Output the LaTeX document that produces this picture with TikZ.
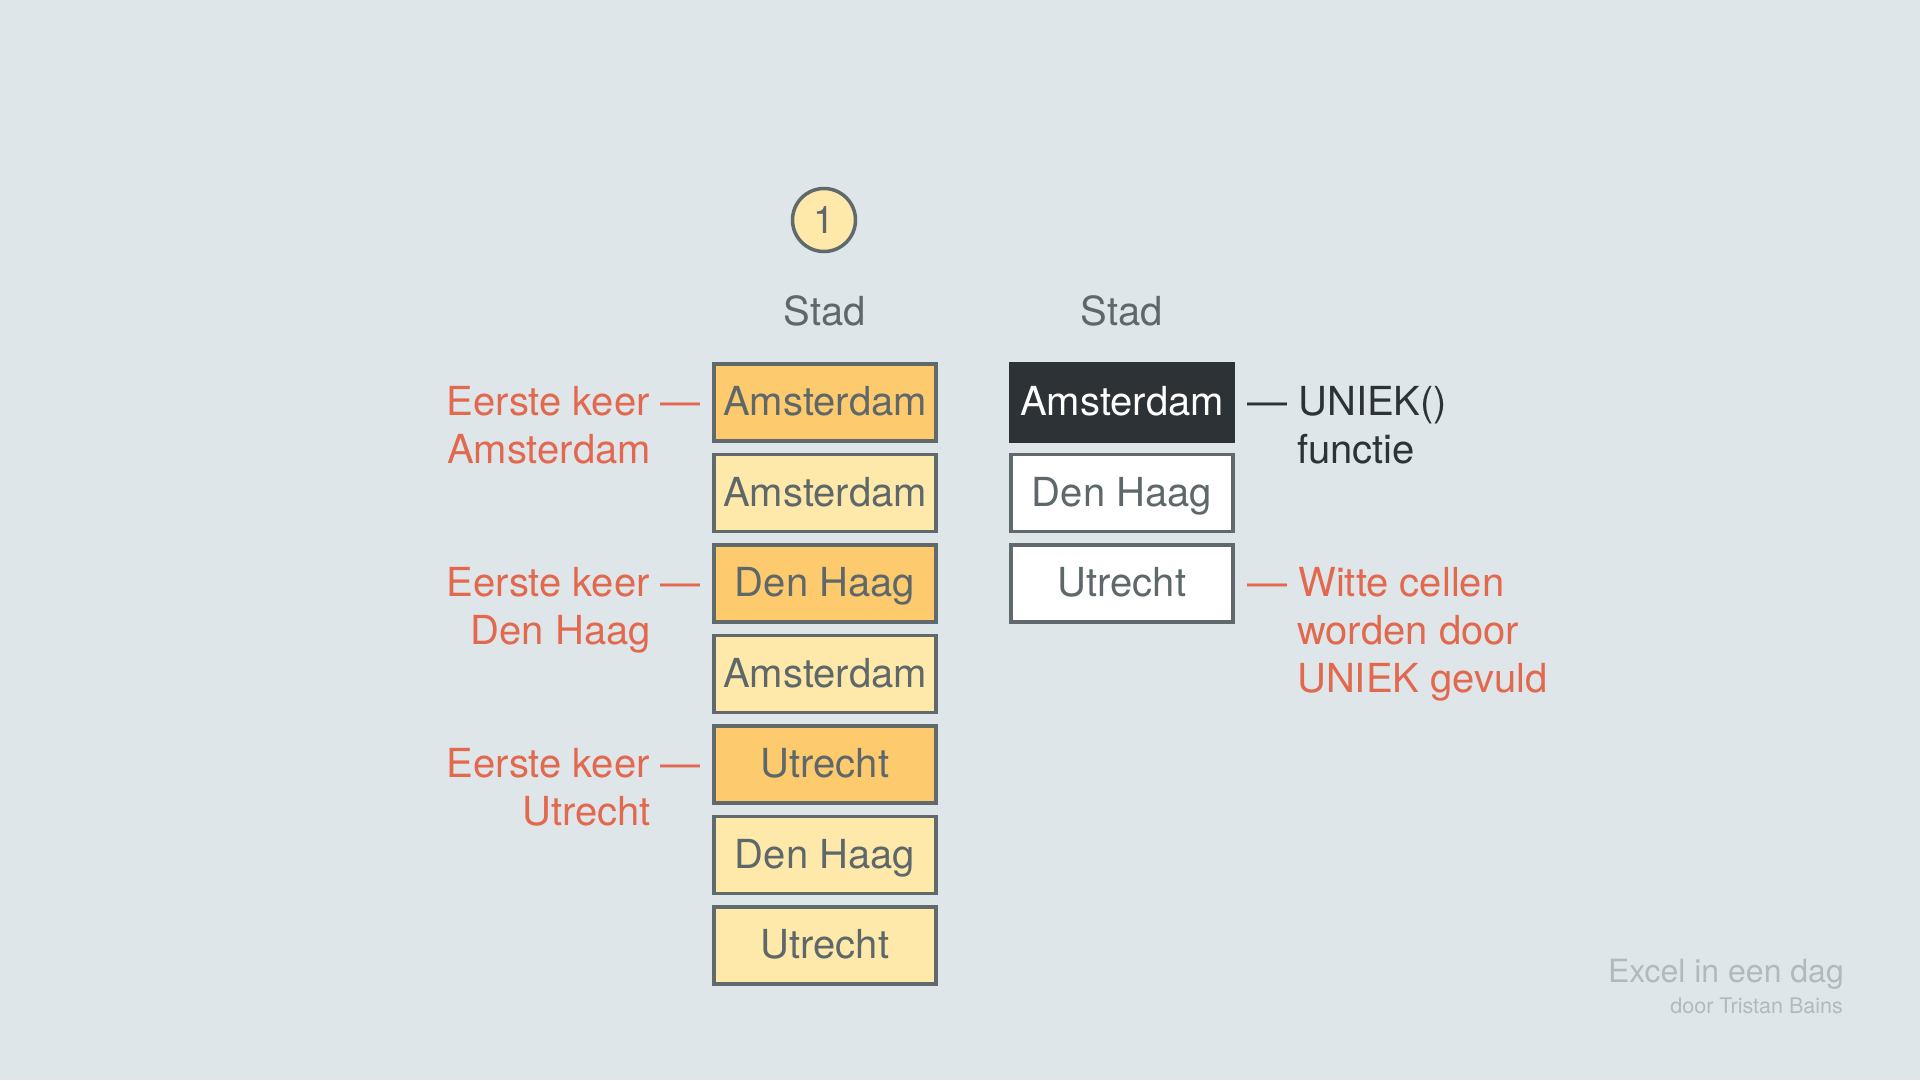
\documentclass[tikz,border=0pt]{standalone}
\usepackage{fontspec}
\setmainfont{TeX Gyre Heros}
\usepackage{tikz}
\usetikzlibrary{positioning}

\definecolor{achter}{RGB}{223,230,233}
\definecolor{rand}{RGB}{96,106,108}
\definecolor{grijs}{RGB}{94,104,106}
\definecolor{oranje}{RGB}{253,202,110}
\definecolor{geel}{RGB}{255,233,170}
\definecolor{rood}{RGB}{226,104,78}
\definecolor{donker}{RGB}{44,50,53}
\definecolor{vaag}{RGB}{176,186,190}
\newcommand\groot{\fontsize{40}{48}\selectfont}

\begin{document}
\begin{tikzpicture}[x=1pt,y=-1pt,
	cel/.style={draw=rand,line width=3.5pt,minimum width=222pt,minimum height=77pt,inner sep=0pt,text=grijs,font=\groot,text height=28.5pt,text depth=2.5pt},
	eerst/.style={cel,fill=oranje},
	rest/.style={cel,fill=geel},
	wit/.style={cel,fill=white},
	uniek/.style={cel,draw=donker,fill=donker,text=white},
	kop/.style={text=grijs,font=\groot,inner sep=0pt},
	rood/.style={text=rood,font=\groot,inner sep=0pt},
	zwart/.style={text=donker,font=\groot,inner sep=0pt}]
		\fill[achter] (0,0) rectangle (1920,1080);
		\useasboundingbox (0,0) rectangle (1920,1080);
		% nummer en koppen
		\node[circle,draw=rand,fill=geel,line width=3.5pt,minimum size=63pt,inner sep=0pt,text=grijs,font=\fontsize{38}{44}\selectfont] (nr) at (824,220) {1};
		\node[kop,anchor=base] (kop1) at (825,325) {Stad};
		\node[kop,anchor=base] (kop2) at (1122,325) {Stad};
		% kolom met steden
		\node[eerst] (s1) at (825,402.5) {Amsterdam};
		\node[rest] (s2) at (825,493) {Amsterdam};
		\node[eerst] (s3) at (825,583.5) {Den Haag};
		\node[rest] (s4) at (825,674) {Amsterdam};
		\node[eerst] (s5) at (825,764.5) {Utrecht};
		\node[rest] (s6) at (825,855) {Den Haag};
		\node[rest] (s7) at (825,945.5) {Utrecht};
		% resultaat van UNIEK
		\node[uniek] (u1) at (1122,402.5) {Amsterdam};
		\node[wit] (u2) at (1122,493) {Den Haag};
		\node[wit] (u3) at (1122,583.5) {Utrecht};
		% uitleg links
		\node[rood,anchor=base east] (k1) at (701,415) {Eerste keer —};
		\node[rood,anchor=base east] (k1b) at ([xshift=-50pt,yshift=-48pt]k1.base east) {Amsterdam};
		\node[rood,anchor=base east] (k3) at (701,596) {Eerste keer —};
		\node[rood,anchor=base east] (k3b) at ([xshift=-50pt,yshift=-48pt]k3.base east) {Den Haag};
		\node[rood,anchor=base east] (k5) at (701,777) {Eerste keer —};
		\node[rood,anchor=base east] (k5b) at ([xshift=-50pt,yshift=-48pt]k5.base east) {Utrecht};
		% uitleg rechts
		\node[zwart,anchor=base west] (f1) at (1247,415) {— UNIEK()};
		\node[zwart,anchor=base west] (f1b) at ([xshift=50pt,yshift=-48pt]f1.base west) {functie};
		\node[rood,anchor=base west] (w1) at (1247,596) {— Witte cellen};
		\node[rood,anchor=base west] (w1b) at ([xshift=50pt,yshift=-48pt]w1.base west) {worden door};
		\node[rood,anchor=base west] (w1c) at ([xshift=50pt,yshift=-96pt]w1.base west) {UNIEK gevuld};
		% voetnoot
		\node[text=vaag,font=\fontsize{32}{38}\selectfont,inner sep=0pt,anchor=base east] (titel) at (1844,982) {Excel in een dag};
		\node[text=vaag,font=\fontsize{21.5}{26}\selectfont,inner sep=0pt,anchor=base east] (door) at (1843,1013) {door Tristan Bains};
	\end{tikzpicture}
\end{document}
